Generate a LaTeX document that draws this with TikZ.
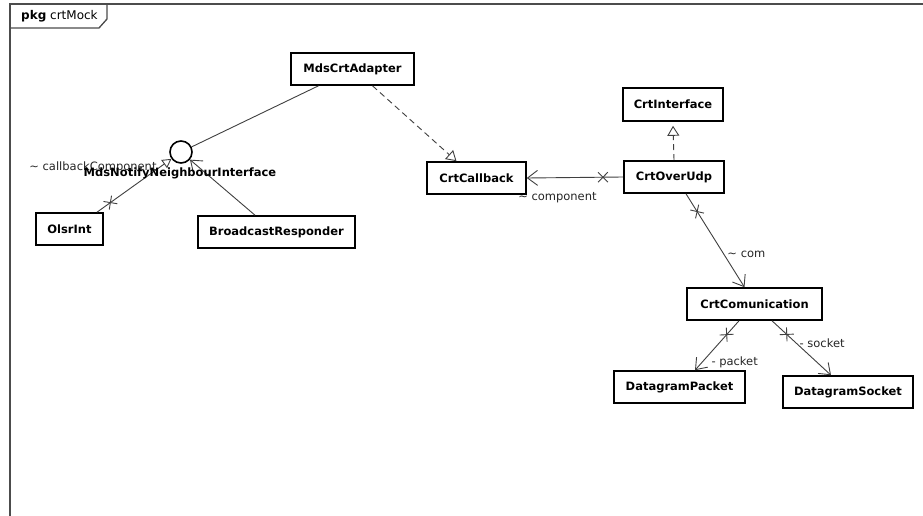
\documentclass[tikz,border=0pt]{standalone}
\usepackage{fontspec}
\setmainfont{DejaVu Sans}
\usetikzlibrary{arrows.meta,shapes.misc,calc}
\begin{document}
\begin{tikzpicture}[x=1pt,y=-1pt,
  cls/.style={draw=black, line width=1.6pt, fill=white, font=\fontsize{11.5}{13}\selectfont\bfseries, inner sep=0pt, minimum height=32pt},
  conn/.style={draw=black!75, line width=0.9pt},
  lbl/.style={font=\fontsize{11.5}{13}\selectfont, inner sep=1pt, text=black!85},
  xm/.style={cross out, draw=black!75, line width=0.9pt, minimum size=9pt, inner sep=0pt, sloped},
  navarrow/.style={-{Straight Barb[length=10pt,width=15pt]}},
  realize/.style={-{Triangle[open,length=10pt,width=12pt,fill=white]}},
  dsh/.style={dash pattern=on 6pt off 4pt},
]
\useasboundingbox (0,0) rectangle (923,516);
\fill[white] (0,0) rectangle (923,516);
% frame
\draw[line width=1.3pt, black!70] (10,516) -- (10,4) -- (923,4);
\draw[line width=1.3pt, black!70] (10,28) -- (99,28) -- (107,19) -- (107,4);
\node[anchor=west, font=\fontsize{12}{14}\selectfont, inner sep=1pt] (title) at (20,16) {\textbf{pkg} crtMock};

% classes
\node[cls, minimum width=123pt] (adapter) at (352.5,69) {MdsCrtAdapter};
\node[cls, minimum width=67pt] (olsr) at (69.5,229) {OlsrInt};
\node[cls, minimum width=157pt] (broad) at (276.5,232) {BroadcastResponder};
\node[cls, minimum width=99pt] (callback) at (476.5,178) {CrtCallback};
\node[cls, minimum width=100pt, minimum height=33pt] (iface) at (673,104.5) {CrtInterface};
\node[cls, minimum width=100pt] (overudp) at (674,177) {CrtOverUdp};
\node[cls, minimum width=135pt] (comm) at (754.5,304) {CrtComunication};
\node[cls, minimum width=131pt] (dpacket) at (679.5,387) {DatagramPacket};
\node[cls, minimum width=130pt] (dsocket) at (848,392) {DatagramSocket};

% interface lollipop
\node[circle, draw=black, line width=1.6pt, minimum size=22pt, inner sep=0pt, fill=white] (circ) at (181,152) {};

% connectors
\draw[conn] ([xshift=-34pt]adapter.south) -- (circ);
\draw[conn, dsh, realize] ([xshift=20pt]adapter.south) -- ([xshift=-20pt]callback.north);
\draw[conn, dsh, realize] (overudp.north) -- ([yshift=-4pt]iface.south);
\draw[conn, navarrow] (overudp.west) -- (callback.east)
  node[xm, pos=0.21] {}
  node[lbl, pos=1, anchor=west, xshift=-10pt, yshift=-20pt] {\textasciitilde{} component};
\draw[conn, navarrow] ([xshift=12pt]overudp.south) -- ([xshift=-10pt]comm.north)
  node[xm, pos=0.19] {}
  node[lbl, pos=0.65, anchor=west, xshift=2pt] {\textasciitilde{} com};
\draw[conn, navarrow] ([xshift=-15.5pt]comm.south) -- ([xshift=15.5pt]dpacket.north)
  node[xm, pos=0.28] {}
  node[lbl, pos=0.84, anchor=west, xshift=8pt] {- packet};
\draw[conn, navarrow] ([xshift=17.5pt]comm.south) -- ([xshift=-17pt]dsocket.north)
  node[xm, pos=0.25] {}
  node[lbl, pos=0.41, anchor=west, xshift=2pt] {- socket};
\draw[conn, -{Triangle[open,length=9pt,width=10pt]}] ([xshift=27.5pt]olsr.north) -- (circ)
  node[xm, pos=0.18] {}
  node[lbl, pos=0.9, anchor=east, xshift=-6pt, yshift=-3.5pt] {\textasciitilde{} callbackComponent};
\draw[conn, navarrow] ([xshift=-21.5pt]broad.north) -- (circ);

\node[font=\fontsize{11.5}{13}\selectfont\bfseries, inner sep=0pt] (circlbl) at (180,173) {MdsNotifyNeighbourInterface};
\end{tikzpicture}
\end{document}
